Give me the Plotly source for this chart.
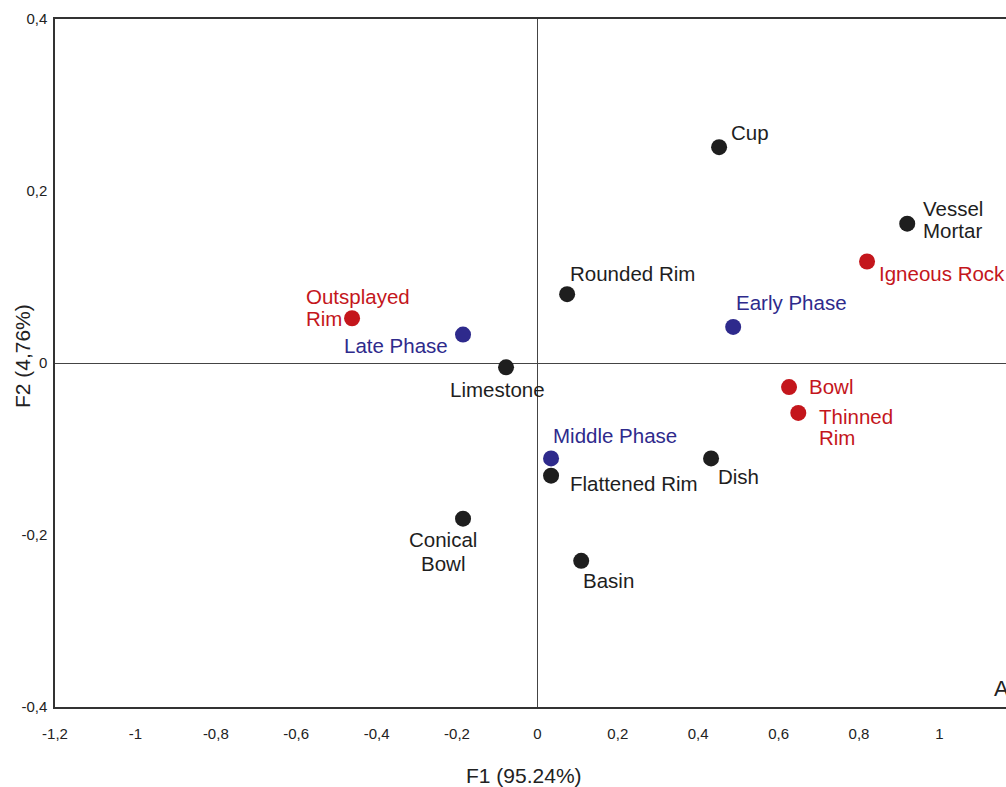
import plotly.graph_objects as go

# ---- data ----
black_names = ["Cup", "Vessel Mortar", "Rounded Rim", "Limestone", "Flattened Rim", "Dish", "Conical Bowl", "Basin"]
black_x = [0.452, 0.920, 0.074, -0.078, 0.034, 0.432, -0.185, 0.109]
black_y = [0.251, 0.162, 0.080, -0.005, -0.131, -0.111, -0.181, -0.230]

red_names = ["Igneous Rock", "Outsplayed Rim", "Bowl", "Thinned Rim"]
red_x = [0.820, -0.461, 0.626, 0.649]
red_y = [0.118, 0.052, -0.028, -0.058]

blue_names = ["Early Phase", "Late Phase", "Middle Phase"]
blue_x = [0.487, -0.185, 0.034]
blue_y = [0.042, 0.033, -0.111]

x_ticks = [-1.2, -1.0, -0.8, -0.6, -0.4, -0.2, 0.0, 0.2, 0.4, 0.6, 0.8, 1.0]
x_tick_labels = ["-1,2", "-1", "-0,8", "-0,6", "-0,4", "-0,2", "0", "0,2", "0,4", "0,6", "0,8", "1"]
y_ticks = [-0.4, -0.2, 0.0, 0.2, 0.4]
y_tick_labels = ["-0,4", "-0,2", "0", "0,2", "0,4"]

x_title = "F1 (95.24%)"
y_title = "F2 (4,76%)"

# ---- label layout (lines, anchor, pixel offsets) ----
label_layout = {
    "Cup": (["Cup"], "left", 10, [-15]),
    "Vessel Mortar": (["Vessel", "Mortar"], "left", 14, [-15, 7]),
    "Rounded Rim": (["Rounded Rim"], "left", 1, [-21]),
    "Limestone": (["Limestone"], "center", -9, [22]),
    "Flattened Rim": (["Flattened Rim"], "left", 17, [8]),
    "Dish": (["Dish"], "left", 5, [18]),
    "Conical Bowl": (["Conical", "Bowl"], "center", -20, [21, 45]),
    "Basin": (["Basin"], "left", 0, [20]),
    "Igneous Rock": (["Igneous Rock"], "left", 10, [12]),
    "Outsplayed Rim": (["Outsplayed", "Rim"], "left", -48, [-22, 0]),
    "Bowl": (["Bowl"], "left", 18, [-1]),
    "Thinned Rim": (["Thinned", "Rim"], "left", 19, [4, 25]),
    "Early Phase": (["Early Phase"], "left", 1, [-24]),
    "Late Phase": (["Late Phase"], "right", -13, [11]),
    "Middle Phase": (["Middle Phase"], "left", 0, [-23]),
}

BLACK = "#1e1e1e"
RED = "#c4161c"
BLUE = "#2e2a8c"
FONT = "Liberation Sans, Arial, sans-serif"

fig = go.Figure()
groups = [
    (black_names, black_x, black_y, BLACK),
    (red_names, red_x, red_y, RED),
    (blue_names, blue_x, blue_y, BLUE),
]
annotations = []
for names, xs, ys, color in groups:
    fig.add_trace(go.Scatter(
        x=xs, y=ys, mode="markers",
        marker=dict(size=16, color=color, line=dict(width=0)),
        text=names, hoverinfo="text", showlegend=False,
    ))
    for n, x, y in zip(names, xs, ys):
        lines, anchor, dx, dys = label_layout[n]
        for line, dy in zip(lines, dys):
            annotations.append(dict(
                x=x, y=y, xref="x", yref="y", text=line, showarrow=False,
                xanchor=anchor, yanchor="middle", xshift=dx, yshift=-dy,
                font=dict(family=FONT, size=20.5, color=color),
            ))

# axis titles
annotations.append(dict(
    x=0.493, y=0, xref="paper", yref="paper", text=x_title, showarrow=False,
    xanchor="center", yanchor="middle", yshift=-68,
    font=dict(family=FONT, size=21, color="#222222"),
))
annotations.append(dict(
    x=0, y=0.51, xref="paper", yref="paper", text=y_title, showarrow=False,
    xanchor="center", yanchor="middle", xshift=-33, textangle=-90,
    font=dict(family=FONT, size=21, color="#222222"),
))
# letter clipped at the right edge, as in the reference
annotations.append(dict(
    x=1, y=0, xref="paper", yref="paper", text="A", showarrow=False,
    xanchor="left", yanchor="middle", xshift=-14, yshift=19,
    font=dict(family=FONT, size=22, color="#222222"),
))

fig.update_layout(
    width=1006, height=787,
    margin=dict(l=55, r=0, t=19, b=80),
    paper_bgcolor="white", plot_bgcolor="white",
    annotations=annotations,
    xaxis=dict(
        range=[-1.2, 1.1657], tickmode="array", tickvals=x_ticks, ticktext=x_tick_labels,
        showgrid=False, zeroline=True, zerolinecolor="#444444", zerolinewidth=1.2,
        showline=True, linecolor="#333333", linewidth=1.5, mirror=True,
        ticks="", ticklabelstandoff=12,
        tickfont=dict(family=FONT, size=15, color="#222222"),
    ),
    yaxis=dict(
        range=[-0.4, 0.4], tickmode="array", tickvals=y_ticks, ticktext=y_tick_labels,
        showgrid=False, zeroline=True, zerolinecolor="#444444", zerolinewidth=1.2,
        showline=True, linecolor="#333333", linewidth=1.5, mirror=False,
        ticks="", ticklabelstandoff=3,
        tickfont=dict(family=FONT, size=15, color="#222222"),
    ),
)

fig.write_html(
    "out.html",
    config={"displayModeBar": False},
    post_script="document.body.style.margin='0';document.body.style.overflow='hidden';",
)
